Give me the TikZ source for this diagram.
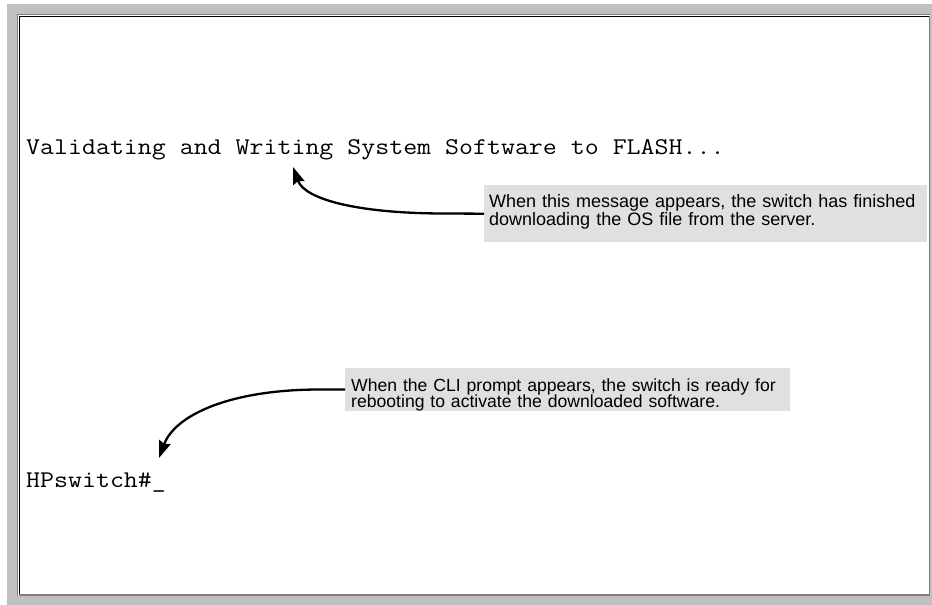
\documentclass[tikz,border=0pt]{standalone}
\usepackage{fontspec}
\setmainfont{Liberation Sans}
\newfontfamily\termfont[FakeStretch=1.13]{Latin Modern Mono}
\usetikzlibrary{arrows.meta}

\definecolor{panelgrey}{HTML}{C0C0C0}
\definecolor{notegrey}{HTML}{E0E0E0}

\begin{document}
\begin{tikzpicture}[x=1pt,y=-1pt,
  term/.style={anchor=base west,inner sep=0pt,font=\termfont\fontsize{24}{26}\selectfont},
  note/.style={anchor=north west,fill=notegrey,inner xsep=5pt,inner ysep=0pt,align=left,font=\fontsize{18}{18}\selectfont},
  pointer/.style={-{Stealth[length=17pt,width=12pt,inset=2pt]},line width=2.3pt}]
  \useasboundingbox (0,0) rectangle (932,605);
  \fill[panelgrey] (7,4) rectangle (932,605);
  \fill[white] (18,15) rectangle (930,596);
  \draw[gray,line width=1pt] (17.5,596) |- (930,14.5);
  \draw[black,line width=1.5pt] (19.5,596) |- (929,16.5);
  \draw[gray,line width=1.5pt] (929.5,16) |- (19,595);

  \node[term] (flashmsg) at (26,154) {Validating and Writing System Software to FLASH...};
  \node[term] (prompt) at (26,487) {HPswitch\#\_};

  \node[note,text width=433pt] (flashnote) at (484,185) {\rule{0pt}{22pt}When this message appears, the switch has finished\\downloading the OS file from the server.\rule[-17pt]{0pt}{17pt}};
  \node[note,inner xsep=6pt,text width=433pt,font=\fontsize{17.6}{16}\selectfont\lineskiplimit-20pt\relax] (bootnote) at (345,368) {\rule{0pt}{23pt}When the CLI prompt appears, the switch is ready for\\rebooting to activate the downloaded software.};

  \coordinate (flashtip) at (293,167);
  \coordinate (flashbend) at (445,213.5);
  \coordinate (prompttip) at (159,458);
  \coordinate (promptbend) at (320,389.5);

  \draw[pointer] (flashnote.west) -- (flashbend) .. controls (360,213.5) and (305,200) .. (flashtip);
  \draw[pointer] (bootnote.west) -- (promptbend) .. controls (230,389.5) and (175,415) .. (prompttip);
\end{tikzpicture}
\end{document}
